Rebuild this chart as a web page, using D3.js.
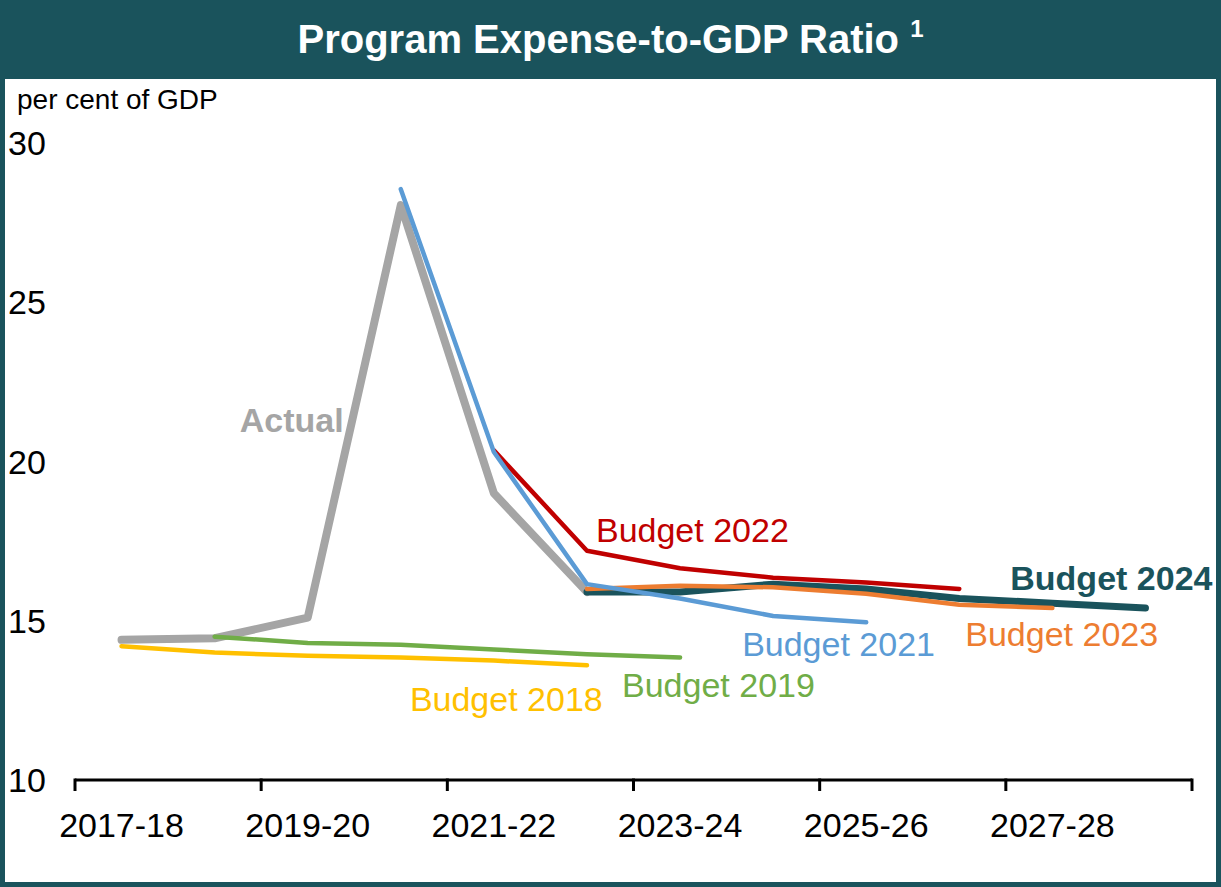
<!DOCTYPE html>
<html>
<head>
<meta charset="utf-8">
<script src="https://cdn.jsdelivr.net/npm/d3@7"></script>
<style>
  html, body { margin: 0; padding: 0; background: #fff; }
  svg { display: block; font-family: "Liberation Sans", Arial, sans-serif; }
</style>
</head>
<body>
<svg id="chart" width="1221" height="887"></svg>
<script>
// Fiscal years on the horizontal axis
const years = ["2017-18","2018-19","2019-20","2020-21","2021-22","2022-23",
               "2023-24","2024-25","2025-26","2026-27","2027-28","2028-29"];
const xTickLabels = ["2017-18","2019-20","2021-22","2023-24","2025-26","2027-28"];
const yTicks = [10, 15, 20, 25, 30];

// Program expenses, per cent of GDP (null = not part of that projection)
const actual     = [14.4, 14.45, 15.1, 28.05, 19.0, 15.9, null, null, null, null, null, null];
const budget2018 = [14.2, 14.0, 13.9, 13.85, 13.75, 13.6, null, null, null, null, null, null];
const budget2019 = [null, 14.5, 14.3, 14.25, 14.1, 13.95, 13.85, null, null, null, null, null];
const budget2021 = [null, null, null, 28.55, 20.3, 16.15, 15.7, 15.15, 14.95, null, null, null];
const budget2022 = [null, null, null, null, 20.35, 17.2, 16.65, 16.35, 16.2, 16.0, null, null];
const budget2023 = [null, null, null, null, null, 16.0, 16.1, 16.05, 15.85, 15.5, 15.4, null];
const budget2024 = [null, null, null, null, null, 15.9, 15.9, 16.15, 16.0, 15.7, 15.55, 15.4];

const TEAL = "#1A535C";

const svg = d3.select("#chart");
const W = 1221, H = 887;

// Frame and header band
svg.append("rect").attr("x", 0).attr("y", 0).attr("width", W).attr("height", H).attr("fill", "#fff");
svg.append("rect").attr("x", 0).attr("y", 0).attr("width", W).attr("height", 79).attr("fill", TEAL);
svg.append("rect").attr("x", 2.5).attr("y", 2.5).attr("width", W - 5).attr("height", H - 5)
   .attr("fill", "none").attr("stroke", TEAL).attr("stroke-width", 5);

const title = svg.append("text")
  .attr("x", W / 2).attr("y", 53)
  .attr("text-anchor", "middle")
  .attr("fill", "#fff")
  .attr("font-weight", "bold")
  .attr("font-size", 40);
title.append("tspan").text("Program Expense-to-GDP Ratio ");
title.append("tspan").attr("font-size", 24).attr("dy", -16).text("1");

// Scales
const x = d3.scaleBand().domain(years).range([75, 1192]).padding(0);
const y = d3.scaleLinear().domain([10, 30]).range([780, 143]);
const cx = d => x(d) + x.bandwidth() / 2;

// Unit label
svg.append("text").attr("x", 17).attr("y", 109).attr("font-size", 28).attr("fill", "#000")
   .text("per cent of GDP");

// Vertical axis labels (no axis line)
svg.append("g").selectAll("text").data(yTicks).join("text")
  .attr("x", 8).attr("y", d => y(d)).attr("dy", "0.36em")
  .attr("font-size", 34).attr("fill", "#000")
  .text(d => d);

// Horizontal axis: line, boundary tick marks, centred labels
const axisY = y(10);
const xAxis = svg.append("g").attr("transform", `translate(0,${axisY})`);
xAxis.append("line")
  .attr("x1", x.range()[0]).attr("x2", x.range()[1])
  .attr("y1", 0).attr("y2", 0)
  .attr("stroke", "#000").attr("stroke-width", 3);
const boundaries = years.filter((d, i) => i % 2 === 0).map(d => x(d)).concat([x.range()[1]]);
xAxis.selectAll("line.tick").data(boundaries).join("line")
  .attr("class", "tick")
  .attr("x1", d => d).attr("x2", d => d)
  .attr("y1", -1.5).attr("y2", 11)
  .attr("stroke", "#000").attr("stroke-width", 3);
xAxis.selectAll("text").data(xTickLabels).join("text")
  .attr("x", d => cx(d)).attr("y", 57)
  .attr("text-anchor", "middle")
  .attr("font-size", 34).attr("fill", "#000")
  .text(d => d);

// Series lines
const line = d3.line()
  .defined(d => d.v != null)
  .x(d => cx(d.year))
  .y(d => y(d.v));

const series = [
  { values: actual,     color: "#A5A5A5", width: 8 },
  { values: budget2018, color: "#FFC000", width: 4.5 },
  { values: budget2019, color: "#70AD47", width: 4.5 },
  { values: budget2024, color: TEAL,      width: 7 },
  { values: budget2023, color: "#ED7D31", width: 4.5 },
  { values: budget2022, color: "#C00000", width: 4.5 },
  { values: budget2021, color: "#5B9BD5", width: 4.5 }
];

svg.append("g").selectAll("path").data(series).join("path")
  .attr("d", s => line(s.values.map((v, i) => ({ year: years[i], v }))))
  .attr("fill", "none")
  .attr("stroke", s => s.color)
  .attr("stroke-width", s => s.width)
  .attr("stroke-linejoin", "round")
  .attr("stroke-linecap", "round");

// Series labels, anchored to a category and value on the scales
const labels = [
  { text: "Actual",      color: "#A5A5A5", bold: true,  at: "2019-20", v: 20.93, dx: -68 },
  { text: "Budget 2022", color: "#C00000", bold: false, at: "2022-23", v: 17.47, dx: 9 },
  { text: "Budget 2024", color: TEAL,      bold: true,  at: "2026-27", v: 15.95, dx: 51 },
  { text: "Budget 2021", color: "#5B9BD5", bold: false, at: "2024-25", v: 13.9,  dx: -31 },
  { text: "Budget 2023", color: "#ED7D31", bold: false, at: "2026-27", v: 14.2,  dx: 6 },
  { text: "Budget 2019", color: "#70AD47", bold: false, at: "2023-24", v: 12.62, dx: -58 },
  { text: "Budget 2018", color: "#FFC000", bold: false, at: "2021-22", v: 12.17, dx: -84 }
];
svg.append("g").selectAll("text").data(labels).join("text")
  .attr("x", d => cx(d.at) + d.dx)
  .attr("y", d => y(d.v))
  .attr("font-size", 34)
  .attr("font-weight", d => d.bold ? "bold" : "normal")
  .attr("fill", d => d.color)
  .text(d => d.text);
</script>
</body>
</html>
